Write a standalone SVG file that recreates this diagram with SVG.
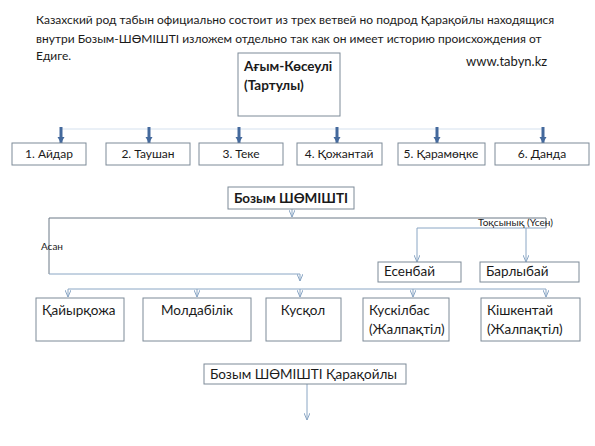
<svg xmlns="http://www.w3.org/2000/svg" width="595" height="446" viewBox="0 0 595 446">
<defs>
<style>
text{font-family:Lato,"Noto Sans","Liberation Sans",sans-serif;fill:#1a1a1a}
.box{fill:#fff;stroke:#7d8a97;stroke-width:1}
.t12{font-size:12px}
.t13{font-size:13.5px}
.b{font-weight:bold}
.thin{fill:none;stroke:#8aa6c4;stroke-width:1}
.dark{fill:none;stroke:#6a7886;stroke-width:1}
.thick{fill:none;stroke:#44699c;stroke-width:3}
</style>
<marker id="v" markerWidth="8" markerHeight="6" refX="7" refY="3" orient="auto" markerUnits="userSpaceOnUse">
<path d="M0,0 L7,3 L0,6" fill="none" stroke="#8aa6c4" stroke-width="1"/>
</marker>
<marker id="tv" markerWidth="8" markerHeight="8" refX="6" refY="4" orient="auto" markerUnits="userSpaceOnUse">
<path d="M0,0.5 L6,4 L0,7.5 Z" fill="#44699c"/>
</marker>
</defs>
<rect width="595" height="446" fill="#fff"/>

<g id="intro">
<text class="t12" x="36" y="24">Казахский род табын официально  состоит из трех ветвей но подрод Қарақойлы находящися</text>
<text class="t12" x="36" y="43">внутри Бозым-ШӨМІШТІ  изложем  отдельно так как он имеет  историю происхождения  от</text>
<text class="t12" x="36" y="60">Едиге.</text>
<text x="466" y="66" style="font-size:13px">www.tabyn.kz</text>
</g>

<g id="connectors">
<line class="thin" x1="61" y1="129" x2="543" y2="129" style="stroke:#d5e1ee"/>
<line class="thick" x1="61" y1="127" x2="61" y2="143" marker-end="url(#tv)"/>
<line class="thick" x1="149" y1="127" x2="149" y2="143" marker-end="url(#tv)"/>
<line class="thick" x1="239" y1="127" x2="239" y2="143" marker-end="url(#tv)"/>
<line class="thick" x1="337" y1="127" x2="337" y2="143" marker-end="url(#tv)"/>
<line class="thick" x1="437" y1="127" x2="437" y2="143" marker-end="url(#tv)"/>
<line class="thick" x1="543" y1="127" x2="543" y2="143" marker-end="url(#tv)"/>

<line class="thin" x1="292" y1="209" x2="292" y2="217" marker-end="url(#v)"/>
<polyline class="dark" points="49,274 49,218 546,218 546,228"/>
<polyline class="thin" points="49,274 300,274 300,281" marker-end="url(#v)"/>
<polyline class="thin" points="546,228 417,228 417,262" marker-end="url(#v)"/>
<line class="thin" x1="526" y1="228" x2="526" y2="262" marker-end="url(#v)"/>
<line class="thin" x1="68" y1="289" x2="546" y2="289"/>
<line class="thin" x1="68" y1="289" x2="68" y2="297" marker-end="url(#v)"/>
<line class="thin" x1="197" y1="289" x2="197" y2="297" marker-end="url(#v)"/>
<line class="thin" x1="300" y1="289" x2="300" y2="297" marker-end="url(#v)"/>
<line class="thin" x1="413" y1="289" x2="413" y2="297" marker-end="url(#v)"/>
<line class="thin" x1="546" y1="289" x2="546" y2="297" marker-end="url(#v)"/>
<line class="thin" x1="307" y1="384" x2="307" y2="420" marker-end="url(#v)"/>
<text x="41" y="250" style="font-size:10px">Асан</text>
<text x="478" y="226" style="font-size:10px">Тоқсынық (Үсен)</text>
</g>

<g id="n-agym">
<rect class="box" x="238" y="53" width="102" height="63"/>
<text class="t13 b" x="244" y="71">Ағым-Көсеулі</text>
<text class="t13 b" x="244" y="90">(Тартулы)</text>
</g>

<g id="n-1"><rect class="box" x="12" y="143" width="74" height="22"/><text class="t12" x="49" y="158" text-anchor="middle">1. Айдар</text></g>
<g id="n-2"><rect class="box" x="106" y="143" width="84" height="22"/><text class="t12" x="148" y="158" text-anchor="middle">2. Таушан</text></g>
<g id="n-3"><rect class="box" x="199" y="143" width="84" height="22"/><text class="t12" x="241" y="158" text-anchor="middle">3. Теке</text></g>
<g id="n-4"><rect class="box" x="297" y="143" width="85" height="22"/><text class="t12" x="339" y="158" text-anchor="middle">4. Қожантай</text></g>
<g id="n-5"><rect class="box" x="398" y="143" width="87" height="22"/><text class="t12" x="441" y="158" text-anchor="middle">5. Қарамөңке</text></g>
<g id="n-6"><rect class="box" x="495" y="143" width="94" height="22"/><text class="t12" x="542" y="158" text-anchor="middle">6. Данда</text></g>

<g id="n-bozym">
<rect class="box" x="228" y="187" width="126" height="22"/>
<text class="t13 b" x="291" y="203" text-anchor="middle">Бозым ШӨМІШТІ</text>
</g>

<g id="n-esenbai"><rect class="box" x="378" y="262" width="83" height="20"/><text class="t13" x="384" y="276">Есенбай</text></g>
<g id="n-barlybai"><rect class="box" x="480" y="262" width="99" height="20"/><text class="t13" x="486" y="276">Барлыбай</text></g>

<g id="n-kaiyr"><rect class="box" x="36" y="298" width="88" height="43"/><text class="t13" x="42" y="315">Қайырқожа</text></g>
<g id="n-molda"><rect class="box" x="143" y="298" width="108" height="43"/><text class="t13" x="197" y="315" text-anchor="middle">Молдабілік</text></g>
<g id="n-kuskol"><rect class="box" x="266" y="298" width="75" height="43"/><text class="t13" x="303" y="315" text-anchor="middle">Кусқол</text></g>
<g id="n-kuskilbas"><rect class="box" x="363" y="298" width="86" height="43"/><text class="t13" x="369" y="315">Кускілбас</text><text class="t13" x="369" y="334">(Жалпақтіл)</text></g>
<g id="n-kishkentai"><rect class="box" x="481" y="298" width="99" height="43"/><text class="t13" x="487" y="315">Кішкентай</text><text class="t13" x="487" y="334">(Жалпақтіл)</text></g>

<g id="n-karakoily">
<rect class="box" x="204" y="364" width="202" height="20"/>
<text class="t13" x="210" y="379">Бозым ШӨМІШТІ Қарақойлы</text>
</g>
</svg>
